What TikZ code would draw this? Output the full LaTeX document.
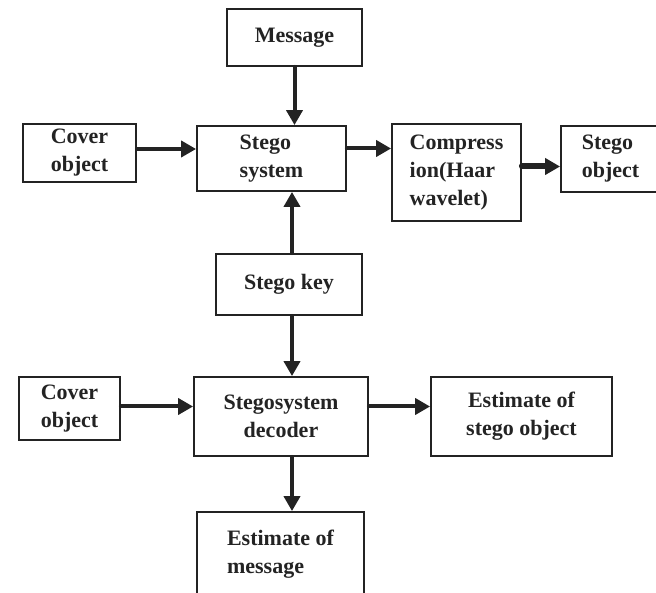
\documentclass[tikz,border=0pt]{standalone}
\usepackage{fontspec}
\setmainfont{Liberation Serif}
\usetikzlibrary{arrows.meta}
\definecolor{ink}{RGB}{35,35,35}

\begin{document}
\begin{tikzpicture}[x=1pt,y=-1pt]
					\tikzstyle{block}=[draw=ink,line width=1.8pt,inner sep=0pt,text=ink,align=center,font=\bfseries\fontsize{22}{28}\selectfont]
					\tikzstyle{arr}=[draw=ink,line width=4pt,line cap=round,-{Triangle[length=15pt,width=16pt]}]
					\useasboundingbox (0,0) rectangle (656,593);
					\node[block,minimum width=135pt,minimum height=57pt] (1) at (294.5,37.5) {Message};
					\node[block,minimum width=113pt,minimum height=58pt] (2) at (79.5,153) {Cover\\object};
					\node[block,align=left,minimum width=149pt,minimum height=65pt] (3) at (271.5,158.5) {Stego\\system};
					\node[block,align=left,minimum width=129pt,minimum height=97pt] (4) at (456.5,172.5) {Compress\\ion(Haar\\wavelet)};
					\node[block,align=left,minimum width=99pt,minimum height=66pt] (5) at (610.5,159) {Stego\\object};
					\node[block,minimum width=146pt,minimum height=61pt] (6) at (289,284.5) {Stego key};
					\node[block,minimum width=101pt,minimum height=63pt] (7) at (69.5,408.5) {Cover\\object};
					\node[block,minimum width=174pt,minimum height=79pt] (8) at (281,416.5) {Stegosystem\\decoder};
					\node[block,minimum width=181pt,minimum height=79pt] (9) at (521.5,416.5) {Estimate of\\stego object};
					\node[block,align=left,minimum width=167pt,minimum height=84pt] (10) at (280.5,554) {Estimate of\\message};
					\draw[arr] (1.south) -- (1.south |- 3.north);
					\draw[arr] ([yshift=4pt]2.east) -- ([yshift=4pt]2.east -| 3.west);
					\draw[arr] ([yshift=10pt]3.east) -- ([yshift=10pt]3.east -| 4.west);
					\draw[arr,line width=6pt] ([yshift=6pt]4.east) -- ([yshift=6pt]4.east -| 5.west);
					\draw[arr] ([xshift=3pt]6.north) -- ([xshift=3pt]6.north |- 3.south);
					\draw[arr] ([xshift=3pt]6.south) -- ([xshift=3pt]6.south |- 8.north);
					\draw[arr] ([yshift=2pt]7.east) -- ([yshift=2pt]7.east -| 8.west);
					\draw[arr] ([yshift=10pt]8.east) -- ([yshift=10pt]8.east -| 9.west);
					\draw[arr] ([xshift=11pt]8.south) -- ([xshift=11pt]8.south |- 10.north);
					\end{tikzpicture}
\end{document}
